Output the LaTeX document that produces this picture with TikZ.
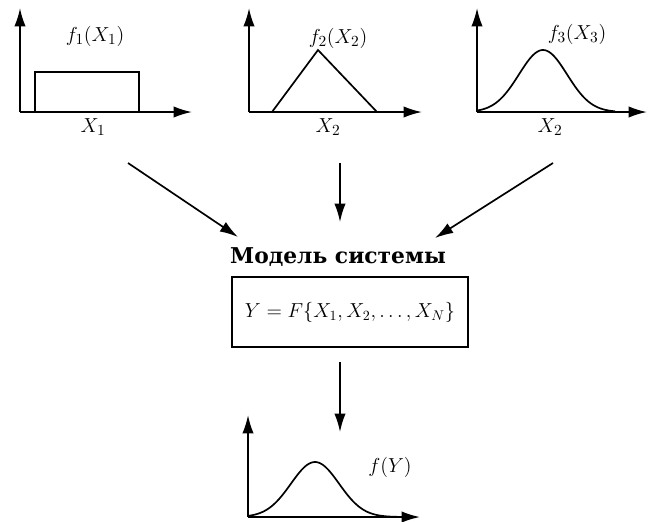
\documentclass[tikz,border=0pt]{standalone}
\usepackage{fontspec}
\newfontfamily\titlefont{DejaVu Serif}
\usetikzlibrary{arrows.meta}

\begin{document}
\begin{tikzpicture}[x=0.025cm, y=-0.025cm, >={Latex[length=13pt,width=8pt]},
      axis/.style={->, line width=1.3pt},
      curve/.style={line width=1.2pt},
      flow/.style={->, line width=1.2pt},
      lbl/.style={font=\fontsize{15}{18}\selectfont, inner sep=1pt},
      ttl/.style={font=\fontsize{15.5}{18}\selectfont\titlefont\bfseries, inner sep=1pt},
      sysbox/.style={draw, line width=1.3pt, minimum width=5.9cm, minimum height=1.75cm, font=\fontsize{14.5}{17}\selectfont}]
    \useasboundingbox (0,0) rectangle (648,521);
    % input X1: uniform
    \coordinate (o1) at (20,112);
    \draw[axis] (o1) -- ++(0,-104);
    \draw[axis] (o1) -- ++(172,0);
    \draw[curve] (35,112) -- (35,72) -- (139,72) -- (139,112);
    \node[lbl] (f1) at (95,36) {$f_1(X_1)$};
    \node[lbl] (x1) at (93,127) {$X_1$};
    % input X2: triangle
    \coordinate (o2) at (249,112);
    \draw[axis] (o2) -- ++(0,-104);
    \draw[axis] (o2) -- ++(173,0);
    \draw[curve] (272,112) -- (318,50) -- (377,112);
    \node[lbl] (f2) at (338,38) {$f_2(X_2)$};
    \node[lbl] (x2) at (328,127) {$X_2$};
    % input X3: bell
    \coordinate (o3) at (477,112);
    \draw[axis] (o3) -- ++(0,-104);
    \draw[axis] (o3) -- ++(170,0);
    \draw[curve] plot[domain=0:138, samples=80] ({477+\x}, {112-62*exp(-((\x-66)/34)^2)});
    \node[lbl] (f3) at (577,34) {$f_3(X_3)$};
    \node[lbl] (x3) at (550,127) {$X_2$};
    % model
    \node[ttl] (model) at (338,257) {Модель системы};
    \node[sysbox] (sys) at (350,312) {$Y = F\{X_1, X_2, \dots, X_N\}$};
    \coordinate (a1) at (128,163);
    \coordinate (b1) at (238,237);
    \coordinate (a2) at (340,163);
    \coordinate (b2) at (340,222);
    \coordinate (a3) at (553,163);
    \coordinate (b3) at (435,238);
    \coordinate (a4) at (340,362);
    \coordinate (b4) at (340,432);
    \draw[flow] (a1) -- (b1);
    \draw[flow] (a2) -- (b2);
    \draw[flow] (a3) -- (b3);
    \draw[flow] (a4) -- (b4);
    % output Y
    \coordinate (oy) at (248,517);
    \draw[axis] (oy) -- ++(0,-102);
    \draw[axis] (oy) -- ++(172,0);
    \draw[curve] plot[domain=0:150, samples=80] ({248+\x}, {517-55*exp(-((\x-67)/34)^2)});
    \node[lbl] (fy) at (390,467) {$f(Y)$};
\end{tikzpicture}
\end{document}
